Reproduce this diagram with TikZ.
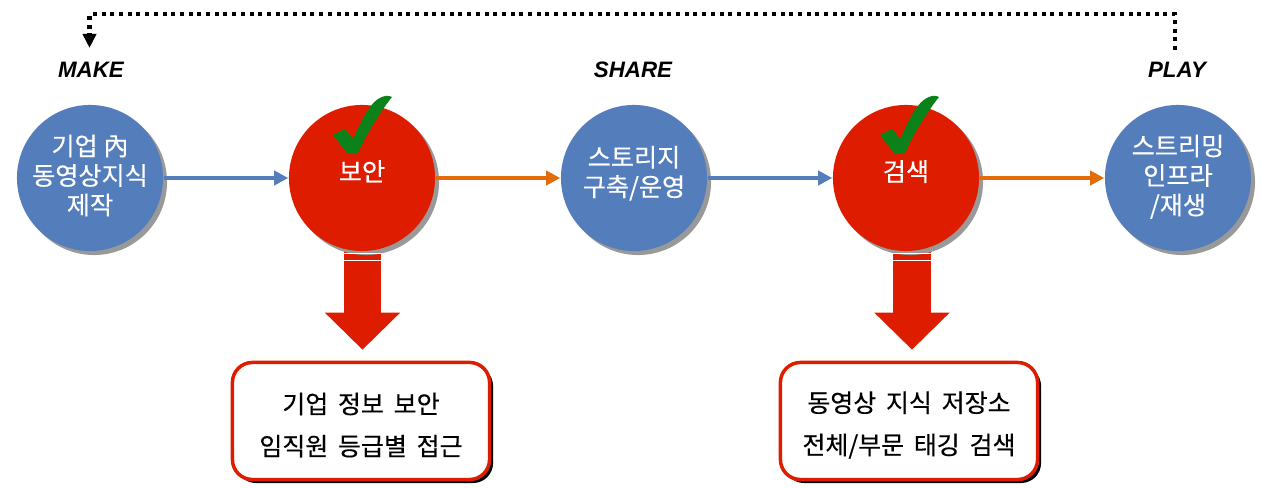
\documentclass[tikz,border=0pt]{standalone}
\usepackage{fontspec}
\setmainfont{Noto Sans CJK KR}
\newfontfamily\labelfont{Liberation Sans}
\newfontfamily\heavyfont[FakeBold=.35]{Noto Sans CJK KR}
\usetikzlibrary{positioning}
\usetikzlibrary{shadows}
\usetikzlibrary{arrows.meta}
\definecolor{stepblue}{RGB}{84,125,188}
\definecolor{stepred}{RGB}{222,29,0}
\definecolor{linkorange}{RGB}{227,108,10}
\definecolor{markgreen}{RGB}{10,130,25}
\newcommand{\belowtext}[1]{\rule[-#1]{0pt}{0pt}}
\newcommand{\abovetext}[1]{\rule{0pt}{#1}}
\tikzset{
  stage/.style={circle,minimum size=1.46cm,inner sep=0pt,align=center,text=white,
    font=\heavyfont\fontsize{7.15}{8.4}\selectfont,
    drop shadow={shadow xshift=.04cm,shadow yshift=-.04cm,fill=gray!80,opacity=1}},
  plainstage/.style={stage,fill=stepblue},
  keystage/.style={stage,fill=stepred},
  phase/.style={font=\labelfont\itshape\bfseries\fontsize{6.35}{8}\selectfont},
  notebox/.style={rectangle,rounded corners=.2cm,draw=stepred,line width=.035cm,fill=white,
    minimum width=2.57cm,minimum height=1.17cm,align=center,
    font=\heavyfont\fontsize{7.1}{12}\selectfont,
    drop shadow={shadow xshift=.035cm,shadow yshift=-.035cm,fill=black,opacity=1}},
  link/.style={line width=.035cm,-{Triangle[length=.14cm,width=.14cm]}},
  bigdown/.style={stepred,line width=.37cm,shorten >=.11cm,-{Triangle[length=.37cm,width=.73cm]}}
}
\begin{document}
\begin{tikzpicture}[x=.01cm,y=-.01cm]
\useasboundingbox (0,0) rectangle (1262,488);
% the big arrows go first
\node[notebox] (securenote) at (361,421) {\abovetext{8.2pt}기업\ \,정보\ \,보안\\임직원\ \,등급별\ \,접근};
\node[notebox] (searchnote) at (909,421) {\abovetext{8.2pt}동영상\ \,지식\ \,저장소\\전체/부문\ \,태깅\ \,검색};
\coordinate (securefoot) at (362.5,240);
\coordinate (searchfoot) at (912,240);
\draw[bigdown] (securefoot) -- (securefoot |- securenote.north);
\draw[bigdown] (searchfoot) -- (searchfoot |- searchnote.north);
\node[plainstage] (make) at (90,178) {기업 內\\동영상지식\\제작\belowtext{2pt}};
\node[keystage] (secure) at (362,178) {보안\belowtext{4.2pt}};
\node[plainstage] (store) at (634,178) {스토리지\\구축/운영\belowtext{4pt}};
\node[keystage] (search) at (906,178) {검색\belowtext{4.2pt}};
\node[plainstage] (play) at (1178,178) {스트리밍\\인프라\\/재생\belowtext{2pt}};
\foreach \x in {362.5,912} {
  \fill[white] (\x-19,253) rectangle (\x+19,254.5);
  \fill[white] (\x-19,260) rectangle (\x+19,261.5);
}
% links
\draw[link,stepblue] (make) -- (secure);
\draw[link,linkorange] (secure) -- (store);
\draw[link,stepblue] (store) -- (search);
\draw[link,linkorange] (search) -- (play);
% labels
\node[phase] (makelabel) at (91,70) {MAKE};
\node[phase] (sharelabel) at (633,70) {SHARE};
\node[phase] (playlabel) at (1177,70) {PLAY};
% check marks
\foreach \x in {0,547} {
  \fill[markgreen,xshift=\x*.01cm] (333,135)--(345,129)--(353,139) .. controls (359,128) and (368,102) .. (382,97)
    .. controls (386,95) and (390,96) .. (392,97) .. controls (380,112) and (366,135) .. (358,153)--(347,153)--cycle;
}
% back loop
\coordinate (loopstart) at (1175.5,50);
\coordinate (loopend) at (89.5,48);
\draw[line width=.04cm,dash pattern=on .04cm off .047cm,-{Triangle[length=.14cm,width=.13cm]}]
  (loopstart) -- (1175.5,14.5) -- (89.5,14.5) -- (loopend);
\end{tikzpicture}
\end{document}
